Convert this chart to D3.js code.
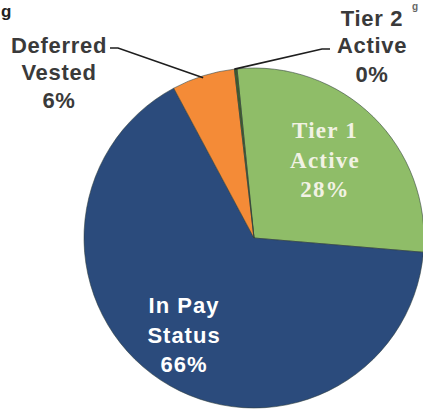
<!DOCTYPE html>
<html><head><meta charset="utf-8">
<script src="https://cdn.jsdelivr.net/npm/d3@7"></script>
<style>html,body{margin:0;padding:0;background:#fff;overflow:hidden}</style>
</head><body>
<svg id="c" width="423" height="409"></svg>
<script>
const categories = ["Tier 1 Active", "In Pay Status", "Deferred Vested", "Tier 2 Active"];
const values = [28, 66, 6, 0.25];
const pctLabels = ["28%", "66%", "6%", "0%"];
const colors = ["#8fbd68", "#2b4b7c", "#f48b37", "#3f5e2c"];

const svg = d3.select("#c");
const cx = 254, cy = 238, r = 170;
const start = -0.1;
const pie = d3.pie().sort(null).value(d => d.v).startAngle(start).endAngle(start + 2 * Math.PI);
const data = categories.map((c, i) => ({c, v: values[i], col: colors[i]}));
const arcs = pie(data);
const arc = d3.arc().innerRadius(0).outerRadius(r);
const g = svg.append("g").attr("transform", `translate(${cx},${cy})`);
g.selectAll("path").data(arcs).join("path")
  .attr("d", arc).attr("fill", d => d.data.col)
  .attr("stroke", "#2f3d3a").attr("stroke-width", 0.8).attr("stroke-opacity", 0.7);

// title fragments at edges
svg.append("text").attr("x", 1).attr("y", 17).attr("font-family", "Liberation Sans, Arial, sans-serif")
  .attr("font-weight", "bold").attr("font-size", 17).attr("fill", "#222").text("g");
svg.append("text").attr("x", 412).attr("y", 10).attr("font-family", "Liberation Sans, Arial, sans-serif")
  .attr("font-weight", "bold").attr("font-size", 10).attr("fill", "#666").text("g");

function multi(x, lines, ys, opts) {
  const t = svg.append("text").attr("text-anchor", "middle")
    .attr("font-family", opts.family).attr("font-weight", "bold")
    .attr("font-size", opts.size).attr("fill", opts.fill)
    .attr("letter-spacing", opts.ls || 0);
  lines.forEach((l, i) => t.append("tspan").attr("x", x).attr("y", ys[i]).text(l));
}
const sans = "Liberation Sans, Arial, sans-serif";
const serif = "Liberation Serif, Times New Roman, serif";

multi(59, ["Deferred", "Vested", pctLabels[2]], [53, 80, 108], {family: sans, size: 22, fill: "#3a3a3a", ls: 0.7});
multi(372, ["Tier 2", "Active", pctLabels[3]], [26, 53, 82], {family: sans, size: 22, fill: "#3a3a3a", ls: 0.7});
multi(325, ["Tier 1", "Active", pctLabels[0]], [138, 168, 197], {family: serif, size: 23, fill: "#f2f2e4", ls: 1.2});
multi(184, ["In Pay", "Status", pctLabels[1]], [313, 343, 372], {family: sans, size: 22, fill: "#ffffff", ls: 1});

// leader lines
const ang = a => [cx + r * Math.sin(a), cy - r * Math.cos(a)];
const defMid = (arcs[2].startAngle + arcs[2].endAngle) / 2;
const p1 = ang(defMid);
svg.append("path").attr("fill", "none").attr("stroke", "#1e1e1e").attr("stroke-width", 1.6)
  .attr("d", `M110,48 L118,48 L${p1[0]},${p1[1] + 2}`);
const p2 = ang(arcs[3].startAngle);
svg.append("path").attr("fill", "none").attr("stroke", "#1e1e1e").attr("stroke-width", 1.6)
  .attr("d", `M330,49 L322,49 L${p2[0]},${p2[1]}`);
</script>
</body></html>
